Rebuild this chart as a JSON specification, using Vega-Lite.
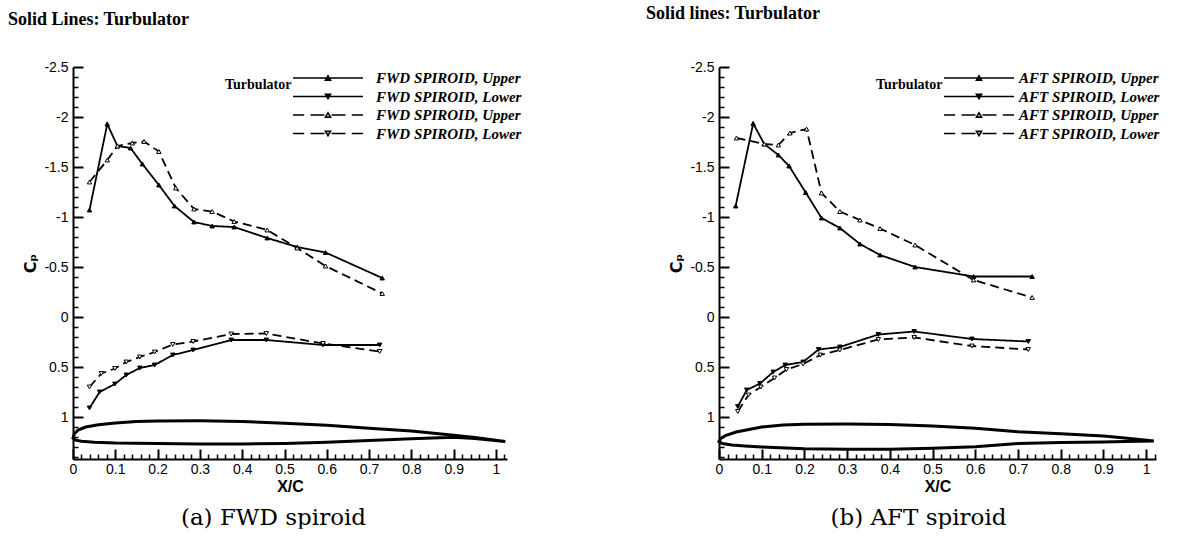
{
  "$schema": "https://vega.github.io/schema/vega-lite/v6.json",
  "background": "white",
  "padding": {"left": 7, "top": 5, "right": 0, "bottom": 0},
  "autosize": {"type": "pad"},
  "bounds": "flush",
  "spacing": 212,
  "config": {"view": {"stroke": null}},
  "datasets": {
    "fwd": [
      {"s":"TU","x":0.039,"cp":-1.07},{"s":"TU","x":0.081,"cp":-1.93},{"s":"TU","x":0.105,"cp":-1.71},{"s":"TU","x":0.136,"cp":-1.69},{"s":"TU","x":0.164,"cp":-1.53},{"s":"TU","x":0.203,"cp":-1.32},{"s":"TU","x":0.24,"cp":-1.11},{"s":"TU","x":0.286,"cp":-0.95},{"s":"TU","x":0.329,"cp":-0.91},{"s":"TU","x":0.381,"cp":-0.9},{"s":"TU","x":0.459,"cp":-0.79},{"s":"TU","x":0.53,"cp":-0.7},{"s":"TU","x":0.597,"cp":-0.645},{"s":"TU","x":0.731,"cp":-0.39},
      {"s":"TL","x":0.039,"cp":0.91},{"s":"TL","x":0.063,"cp":0.75},{"s":"TL","x":0.099,"cp":0.67},{"s":"TL","x":0.126,"cp":0.58},{"s":"TL","x":0.158,"cp":0.51},{"s":"TL","x":0.193,"cp":0.48},{"s":"TL","x":0.236,"cp":0.38},{"s":"TL","x":0.284,"cp":0.33},{"s":"TL","x":0.374,"cp":0.23},{"s":"TL","x":0.457,"cp":0.23},{"s":"TL","x":0.591,"cp":0.28},{"s":"TL","x":0.725,"cp":0.28},
      {"s":"BU","x":0.039,"cp":-1.35},{"s":"BU","x":0.081,"cp":-1.57},{"s":"BU","x":0.105,"cp":-1.71},{"s":"BU","x":0.14,"cp":-1.74},{"s":"BU","x":0.168,"cp":-1.755},{"s":"BU","x":0.203,"cp":-1.655},{"s":"BU","x":0.243,"cp":-1.29},{"s":"BU","x":0.286,"cp":-1.08},{"s":"BU","x":0.329,"cp":-1.055},{"s":"BU","x":0.381,"cp":-0.955},{"s":"BU","x":0.459,"cp":-0.87},{"s":"BU","x":0.53,"cp":-0.69},{"s":"BU","x":0.597,"cp":-0.51},{"s":"BU","x":0.731,"cp":-0.235},
      {"s":"BL","x":0.039,"cp":0.7},{"s":"BL","x":0.067,"cp":0.565},{"s":"BL","x":0.099,"cp":0.515},{"s":"BL","x":0.126,"cp":0.45},{"s":"BL","x":0.158,"cp":0.4},{"s":"BL","x":0.193,"cp":0.35},{"s":"BL","x":0.236,"cp":0.275},{"s":"BL","x":0.284,"cp":0.245},{"s":"BL","x":0.374,"cp":0.17},{"s":"BL","x":0.457,"cp":0.165},{"s":"BL","x":0.591,"cp":0.265},{"s":"BL","x":0.725,"cp":0.345}
    ],
    "aft": [
      {"s":"TU","x":0.039,"cp":-1.11},{"s":"TU","x":0.08,"cp":-1.935},{"s":"TU","x":0.106,"cp":-1.73},{"s":"TU","x":0.139,"cp":-1.62},{"s":"TU","x":0.164,"cp":-1.51},{"s":"TU","x":0.203,"cp":-1.245},{"s":"TU","x":0.24,"cp":-0.99},{"s":"TU","x":0.283,"cp":-0.89},{"s":"TU","x":0.33,"cp":-0.73},{"s":"TU","x":0.377,"cp":-0.62},{"s":"TU","x":0.459,"cp":-0.5},{"s":"TU","x":0.596,"cp":-0.405},{"s":"TU","x":0.733,"cp":-0.405},
      {"s":"TL","x":0.044,"cp":0.895},{"s":"TL","x":0.065,"cp":0.73},{"s":"TL","x":0.096,"cp":0.665},{"s":"TL","x":0.127,"cp":0.55},{"s":"TL","x":0.155,"cp":0.48},{"s":"TL","x":0.197,"cp":0.45},{"s":"TL","x":0.233,"cp":0.325},{"s":"TL","x":0.283,"cp":0.3},{"s":"TL","x":0.373,"cp":0.175},{"s":"TL","x":0.457,"cp":0.145},{"s":"TL","x":0.592,"cp":0.22},{"s":"TL","x":0.724,"cp":0.245},
      {"s":"BU","x":0.041,"cp":-1.79},{"s":"BU","x":0.106,"cp":-1.73},{"s":"BU","x":0.139,"cp":-1.72},{"s":"BU","x":0.166,"cp":-1.84},{"s":"BU","x":0.205,"cp":-1.88},{"s":"BU","x":0.24,"cp":-1.24},{"s":"BU","x":0.283,"cp":-1.055},{"s":"BU","x":0.33,"cp":-0.97},{"s":"BU","x":0.377,"cp":-0.885},{"s":"BU","x":0.459,"cp":-0.72},{"s":"BU","x":0.596,"cp":-0.37},{"s":"BU","x":0.733,"cp":-0.195},
      {"s":"BL","x":0.044,"cp":0.945},{"s":"BL","x":0.069,"cp":0.78},{"s":"BL","x":0.098,"cp":0.7},{"s":"BL","x":0.13,"cp":0.61},{"s":"BL","x":0.158,"cp":0.525},{"s":"BL","x":0.197,"cp":0.47},{"s":"BL","x":0.237,"cp":0.38},{"s":"BL","x":0.283,"cp":0.33},{"s":"BL","x":0.373,"cp":0.225},{"s":"BL","x":0.457,"cp":0.205},{"s":"BL","x":0.592,"cp":0.29},{"s":"BL","x":0.724,"cp":0.325}
    ],
    "foilL": [
      {"i":0,"x":1.022,"y":1.245},{"i":1,"x":0.95,"y":1.205},{"i":2,"x":0.9,"y":1.183},{"i":3,"x":0.8,"y":1.14},{"i":4,"x":0.7,"y":1.112},{"i":5,"x":0.6,"y":1.083},{"i":6,"x":0.5,"y":1.062},{"i":7,"x":0.4,"y":1.045},{"i":8,"x":0.3,"y":1.038},{"i":9,"x":0.2,"y":1.04},{"i":10,"x":0.15,"y":1.046},{"i":11,"x":0.1,"y":1.06},{"i":12,"x":0.06,"y":1.078},{"i":13,"x":0.03,"y":1.1},{"i":14,"x":0.012,"y":1.13},{"i":15,"x":0.003,"y":1.17},{"i":16,"x":0.0,"y":1.21},{"i":17,"x":0.006,"y":1.232},{"i":18,"x":0.02,"y":1.242},{"i":19,"x":0.05,"y":1.252},{"i":20,"x":0.1,"y":1.26},{"i":21,"x":0.2,"y":1.266},{"i":22,"x":0.3,"y":1.27},{"i":23,"x":0.4,"y":1.27},{"i":24,"x":0.5,"y":1.264},{"i":25,"x":0.6,"y":1.252},{"i":26,"x":0.7,"y":1.235},{"i":27,"x":0.8,"y":1.217},{"i":28,"x":0.9,"y":1.203},{"i":29,"x":0.95,"y":1.215},{"i":30,"x":1.022,"y":1.245}
    ],
    "foilR": [
      {"i":0,"x":1.018,"y":1.24},{"i":1,"x":0.95,"y":1.21},{"i":2,"x":0.9,"y":1.19},{"i":3,"x":0.8,"y":1.168},{"i":4,"x":0.7,"y":1.147},{"i":5,"x":0.6,"y":1.113},{"i":6,"x":0.5,"y":1.09},{"i":7,"x":0.4,"y":1.074},{"i":8,"x":0.3,"y":1.07},{"i":9,"x":0.2,"y":1.072},{"i":10,"x":0.15,"y":1.08},{"i":11,"x":0.1,"y":1.1},{"i":12,"x":0.07,"y":1.125},{"i":13,"x":0.04,"y":1.15},{"i":14,"x":0.015,"y":1.185},{"i":15,"x":0.004,"y":1.215},{"i":16,"x":0.0,"y":1.245},{"i":17,"x":0.008,"y":1.265},{"i":18,"x":0.03,"y":1.28},{"i":19,"x":0.06,"y":1.29},{"i":20,"x":0.1,"y":1.3},{"i":21,"x":0.2,"y":1.318},{"i":22,"x":0.3,"y":1.323},{"i":23,"x":0.4,"y":1.322},{"i":24,"x":0.5,"y":1.312},{"i":25,"x":0.6,"y":1.297},{"i":26,"x":0.7,"y":1.265},{"i":27,"x":0.8,"y":1.255},{"i":28,"x":0.9,"y":1.25},{"i":29,"x":0.95,"y":1.245},{"i":30,"x":1.018,"y":1.24}
    ],
    "leg": [{"s":"TU"},{"s":"TL"},{"s":"BU"},{"s":"BL"}]
  },
  "hconcat": [
    {
      "width": 434,
      "height": 392,
      "title": {"text": "Solid Lines: Turbulator", "anchor": "start", "frame": "bounds", "font": "Liberation Serif", "fontSize": 18, "fontWeight": "bold", "color": "black", "offset": 31, "dx": -15},
      "resolve": {"scale": {"shape": "independent", "fill": "independent"}, "axis": {"x": "independent", "y": "independent"}},
      "layer": [
        {
          "data": {"name": "foilL"},
          "mark": {"type": "line", "stroke": "black", "strokeWidth": 3},
          "encoding": {
            "x": {"field": "x", "type": "quantitative", "scale": {"domain": [0, 1.026], "nice": false, "zero": false},
              "axis": {"orient": "bottom", "values": [0,0.1,0.2,0.3,0.4,0.5,0.6,0.7,0.8,0.9,1], "labelExpr": "'' + datum.value", "tickSize": -10, "tickWidth": 2, "tickColor": "black", "domainColor": "black", "domainWidth": 2, "labelPadding": 13, "labelFont": "Liberation Sans", "labelFontSize": 14, "labelColor": "black", "labelFlush": false, "labelOverlap": false, "labelBound": false, "title": "X/C", "titleFont": "Liberation Sans", "titleFontSize": 16, "titleFontWeight": "bold", "titleColor": "black", "titlePadding": 2, "grid": false}},
            "y": {"field": "y", "type": "quantitative", "scale": {"domain": [-2.5, 1.42], "reverse": true, "nice": false, "zero": false},
              "axis": {"orient": "left", "values": [-2.5,-2,-1.5,-1,-0.5,0,0.5,1], "labelExpr": "'' + datum.value", "tickSize": -10, "tickWidth": 2, "tickColor": "black", "domainColor": "black", "domainWidth": 2, "labelPadding": 15, "labelFont": "Liberation Sans", "labelFontSize": 14, "labelColor": "black", "labelFlush": false, "labelOverlap": false, "labelBound": false, "title": "Cₚ", "titleFont": "DejaVu Sans", "titleFontSize": 16, "titleFontWeight": "bold", "titleColor": "black", "titlePadding": 5, "grid": false}},
            "order": {"field": "i", "type": "quantitative"}
          }
        },
        {
          "data": {"name": "fwd"},
          "mark": {"type": "line", "stroke": "black", "strokeWidth": 1.8},
          "encoding": {
            "x": {"field": "x", "type": "quantitative", "scale": {"domain": [0, 1.026], "nice": false, "zero": false},
              "axis": {"orient": "bottom", "values": [0.02,0.04,0.06,0.08,0.12,0.14,0.16,0.18,0.22,0.24,0.26,0.28,0.32,0.34,0.36,0.38,0.42,0.44,0.46,0.48,0.52,0.54,0.56,0.58,0.62,0.64,0.66,0.68,0.72,0.74,0.76,0.78,0.82,0.84,0.86,0.88,0.92,0.94,0.96,0.98,1.02], "labels": false, "domain": false, "tickSize": -5, "tickWidth": 1.5, "tickColor": "black", "title": null, "grid": false}},
            "y": {"field": "cp", "type": "quantitative", "scale": {"domain": [-2.5, 1.42], "reverse": true, "nice": false, "zero": false},
              "axis": {"orient": "left", "values": [-2.4,-2.3,-2.2,-2.1,-1.9,-1.8,-1.7,-1.6,-1.4,-1.3,-1.2,-1.1,-0.9,-0.8,-0.7,-0.6,-0.4,-0.3,-0.2,-0.1,0.1,0.2,0.3,0.4,0.6,0.7,0.8,0.9,1.1,1.2,1.3,1.4], "labels": false, "domain": false, "tickSize": -5, "tickWidth": 1.5, "tickColor": "black", "title": null, "grid": false}},
            "strokeDash": {"field": "s", "type": "nominal", "scale": {"domain": ["TU","TL","BU","BL"], "range": [[1,0],[1,0],[9,5],[9,5]]}, "legend": null}
          }
        },
        {
          "data": {"name": "fwd"},
          "mark": {"type": "point", "stroke": "black", "strokeWidth": 1, "opacity": 1, "size": 20},
          "encoding": {
            "x": {"field": "x", "type": "quantitative", "scale": {"domain": [0, 1.026], "nice": false, "zero": false},
              "axis": {"orient": "bottom", "labels": false, "ticks": false, "domain": false, "grid": false, "title": "(a) FWD spiroid", "titleFont": "DejaVu Serif", "titleFontSize": 23, "titleFontWeight": "normal", "titleColor": "black", "titlePadding": 47, "titleX": 200, "titleAlign": "center"}},
            "y": {"field": "cp", "type": "quantitative", "scale": {"domain": [-2.5, 1.42], "reverse": true, "nice": false, "zero": false}, "axis": null},
            "shape": {"field": "s", "type": "nominal", "scale": {"domain": ["TU","TL","BU","BL"], "range": ["triangle-up","triangle-down","triangle-up","triangle-down"]}, "legend": null},
            "fill": {"field": "s", "type": "nominal", "scale": {"domain": ["TU","TL","BU","BL"], "range": ["black","black","white","white"]}, "legend": null}
          }
        },
        {
          "data": {"name": "leg"},
          "mark": {"type": "point", "stroke": "black", "strokeWidth": 1.6, "opacity": 1, "clip": true},
          "encoding": {
            "x": {"datum": -1, "type": "quantitative", "scale": {"domain": [0, 1.026], "nice": false, "zero": false}, "axis": null},
            "y": {"datum": 0, "type": "quantitative", "scale": {"domain": [-2.5, 1.42], "reverse": true, "nice": false, "zero": false}, "axis": null},
            "shape": {"field": "s", "type": "nominal", "scale": {"domain": ["TU","TL","BU","BL"], "range": ["M-5,0H5M-0.36,0.3L0,-0.32L0.36,0.3ZM-0.18,0.15L0,-0.14L0.18,0.15ZM0,-0.3V0.3","M-5,0H5M-0.36,-0.3L0,0.32L0.36,-0.3ZM-0.18,-0.15L0,0.14L0.18,-0.15ZM0,-0.3V0.3","M-5,0H-3.4M-2.5,0H-0.5M0.5,0H2.5M3.4,0H5M-0.36,0.3L0,-0.32L0.36,0.3Z","M-5,0H-3.4M-2.5,0H-0.5M0.5,0H2.5M3.4,0H5M-0.36,-0.3L0,0.32L0.36,-0.3Z"]},
              "legend": {"orient": "none", "legendX": 152, "legendY": 3, "title": ["", "Turbulator"], "titleOrient": "left", "titleAnchor": "start", "titleBaseline": "top", "titleLineHeight": 8, "titleFont": "Liberation Serif", "titleFontWeight": "bold", "titleFontSize": 14, "titleColor": "black", "titlePadding": 28, "labelExpr": "datum.value == 'TU' || datum.value == 'BU' ? 'FWD SPIROID, Upper' : 'FWD SPIROID, Lower'", "labelFont": "Liberation Serif", "labelFontStyle": "italic", "labelFontWeight": "bold", "labelFontSize": 15, "labelColor": "black", "labelOffset": 40, "labelLimit": 300, "symbolSize": 196, "symbolStrokeWidth": 1.6, "symbolStrokeColor": "black", "symbolFillColor": "transparent", "rowPadding": 2.5, "padding": 0}}
          }
        }
      ]
    },
    {
      "width": 437,
      "height": 392,
      "title": {"text": "Solid lines: Turbulator", "anchor": "start", "frame": "bounds", "font": "Liberation Serif", "fontSize": 18, "fontWeight": "bold", "color": "black", "offset": 37, "dx": -23},
      "resolve": {"scale": {"shape": "independent", "fill": "independent"}, "axis": {"x": "independent", "y": "independent"}},
      "layer": [
        {
          "data": {"name": "foilR"},
          "mark": {"type": "line", "stroke": "black", "strokeWidth": 3},
          "encoding": {
            "x": {"field": "x", "type": "quantitative", "scale": {"domain": [0, 1.023], "nice": false, "zero": false},
              "axis": {"orient": "bottom", "values": [0,0.1,0.2,0.3,0.4,0.5,0.6,0.7,0.8,0.9,1], "labelExpr": "'' + datum.value", "tickSize": -10, "tickWidth": 2, "tickColor": "black", "domainColor": "black", "domainWidth": 2, "labelPadding": 13, "labelFont": "Liberation Sans", "labelFontSize": 14, "labelColor": "black", "labelFlush": false, "labelOverlap": false, "labelBound": false, "title": "X/C", "titleFont": "Liberation Sans", "titleFontSize": 16, "titleFontWeight": "bold", "titleColor": "black", "titlePadding": 2, "grid": false}},
            "y": {"field": "y", "type": "quantitative", "scale": {"domain": [-2.5, 1.42], "reverse": true, "nice": false, "zero": false},
              "axis": {"orient": "left", "values": [-2.5,-2,-1.5,-1,-0.5,0,0.5,1], "labelExpr": "'' + datum.value", "tickSize": -10, "tickWidth": 2, "tickColor": "black", "domainColor": "black", "domainWidth": 2, "labelPadding": 15, "labelFont": "Liberation Sans", "labelFontSize": 14, "labelColor": "black", "labelFlush": false, "labelOverlap": false, "labelBound": false, "title": "Cₚ", "titleFont": "DejaVu Sans", "titleFontSize": 16, "titleFontWeight": "bold", "titleColor": "black", "titlePadding": 5, "grid": false}},
            "order": {"field": "i", "type": "quantitative"}
          }
        },
        {
          "data": {"name": "aft"},
          "mark": {"type": "line", "stroke": "black", "strokeWidth": 1.8},
          "encoding": {
            "x": {"field": "x", "type": "quantitative", "scale": {"domain": [0, 1.023], "nice": false, "zero": false},
              "axis": {"orient": "bottom", "values": [0.02,0.04,0.06,0.08,0.12,0.14,0.16,0.18,0.22,0.24,0.26,0.28,0.32,0.34,0.36,0.38,0.42,0.44,0.46,0.48,0.52,0.54,0.56,0.58,0.62,0.64,0.66,0.68,0.72,0.74,0.76,0.78,0.82,0.84,0.86,0.88,0.92,0.94,0.96,0.98,1.02], "labels": false, "domain": false, "tickSize": -5, "tickWidth": 1.5, "tickColor": "black", "title": null, "grid": false}},
            "y": {"field": "cp", "type": "quantitative", "scale": {"domain": [-2.5, 1.42], "reverse": true, "nice": false, "zero": false},
              "axis": {"orient": "left", "values": [-2.4,-2.3,-2.2,-2.1,-1.9,-1.8,-1.7,-1.6,-1.4,-1.3,-1.2,-1.1,-0.9,-0.8,-0.7,-0.6,-0.4,-0.3,-0.2,-0.1,0.1,0.2,0.3,0.4,0.6,0.7,0.8,0.9,1.1,1.2,1.3,1.4], "labels": false, "domain": false, "tickSize": -5, "tickWidth": 1.5, "tickColor": "black", "title": null, "grid": false}},
            "strokeDash": {"field": "s", "type": "nominal", "scale": {"domain": ["TU","TL","BU","BL"], "range": [[1,0],[1,0],[9,5],[9,5]]}, "legend": null}
          }
        },
        {
          "data": {"name": "aft"},
          "mark": {"type": "point", "stroke": "black", "strokeWidth": 1, "opacity": 1, "size": 20},
          "encoding": {
            "x": {"field": "x", "type": "quantitative", "scale": {"domain": [0, 1.023], "nice": false, "zero": false},
              "axis": {"orient": "bottom", "labels": false, "ticks": false, "domain": false, "grid": false, "title": "(b) AFT spiroid", "titleFont": "DejaVu Serif", "titleFontSize": 23, "titleFontWeight": "normal", "titleColor": "black", "titlePadding": 47, "titleX": 199, "titleAlign": "center"}},
            "y": {"field": "cp", "type": "quantitative", "scale": {"domain": [-2.5, 1.42], "reverse": true, "nice": false, "zero": false}, "axis": null},
            "shape": {"field": "s", "type": "nominal", "scale": {"domain": ["TU","TL","BU","BL"], "range": ["triangle-up","triangle-down","triangle-up","triangle-down"]}, "legend": null},
            "fill": {"field": "s", "type": "nominal", "scale": {"domain": ["TU","TL","BU","BL"], "range": ["black","black","white","white"]}, "legend": null}
          }
        },
        {
          "data": {"name": "leg"},
          "mark": {"type": "point", "stroke": "black", "strokeWidth": 1.6, "opacity": 1, "clip": true},
          "encoding": {
            "x": {"datum": -1, "type": "quantitative", "scale": {"domain": [0, 1.023], "nice": false, "zero": false}, "axis": null},
            "y": {"datum": 0, "type": "quantitative", "scale": {"domain": [-2.5, 1.42], "reverse": true, "nice": false, "zero": false}, "axis": null},
            "shape": {"field": "s", "type": "nominal", "scale": {"domain": ["TU","TL","BU","BL"], "range": ["M-5,0H5M-0.36,0.3L0,-0.32L0.36,0.3ZM-0.18,0.15L0,-0.14L0.18,0.15ZM0,-0.3V0.3","M-5,0H5M-0.36,-0.3L0,0.32L0.36,-0.3ZM-0.18,-0.15L0,0.14L0.18,-0.15ZM0,-0.3V0.3","M-5,0H-3.4M-2.5,0H-0.5M0.5,0H2.5M3.4,0H5M-0.36,0.3L0,-0.32L0.36,0.3Z","M-5,0H-3.4M-2.5,0H-0.5M0.5,0H2.5M3.4,0H5M-0.36,-0.3L0,0.32L0.36,-0.3Z"]},
              "legend": {"orient": "none", "legendX": 157, "legendY": 3, "title": ["", "Turbulator"], "titleOrient": "left", "titleAnchor": "start", "titleBaseline": "top", "titleLineHeight": 8, "titleFont": "Liberation Serif", "titleFontWeight": "bold", "titleFontSize": 14, "titleColor": "black", "titlePadding": 28, "labelExpr": "datum.value == 'TU' || datum.value == 'BU' ? 'AFT SPIROID, Upper' : 'AFT SPIROID, Lower'", "labelFont": "Liberation Serif", "labelFontStyle": "italic", "labelFontWeight": "bold", "labelFontSize": 15, "labelColor": "black", "labelOffset": 32, "labelLimit": 300, "symbolSize": 196, "symbolStrokeWidth": 1.6, "symbolStrokeColor": "black", "symbolFillColor": "transparent", "rowPadding": 2.5, "padding": 0}}
          }
        }
      ]
    }
  ]
}
